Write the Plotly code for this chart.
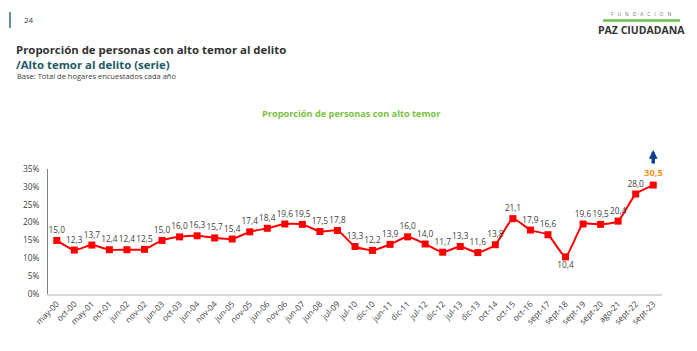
import plotly.graph_objects as go

categories = ["may-00", "oct-00", "may-01", "oct-01", "jun-02", "nov-02", "jun-03", "oct-03",
              "jun-04", "nov-04", "jun-05", "nov-05", "jun-06", "nov-06", "jun-07", "jun-08",
              "jul-09", "jul-10", "dic-10", "jun-11", "dic-11", "jul-12", "dic-12", "jul-13",
              "dic-13", "oct-14", "oct-15", "oct-16", "sept-17", "sept-18", "sept-19",
              "sept-20", "ago-21", "sept-22", "sept-23"]
values = [15.0, 12.3, 13.7, 12.4, 12.4, 12.5, 15.0, 16.0, 16.3, 15.7, 15.4, 17.4, 18.4,
          19.6, 19.5, 17.5, 17.8, 13.3, 12.2, 13.9, 16.0, 14.0, 11.7, 13.3, 11.6, 13.8,
          21.1, 17.9, 16.6, 10.4, 19.6, 19.5, 20.4, 28.0, 30.5]
y_ticks = [0, 5, 10, 15, 20, 25, 30, 35]
y_ticklabels = [f"{v}%" for v in y_ticks]

W, H = 697, 351
L, R, T, B = 48, 35, 169, 57
PW, PH = W - L - R, H - T - B


def px(x):
    return (x - L) / PW


def py(y):
    return (H - B - y) / PH


def fmt(v):
    return f"{v:.1f}".replace(".", ",")


labels = [fmt(v) for v in values]
labels[-1] = ""
min_idx = values.index(min(values))
positions = ["bottom center" if i == min_idx else "top center" for i in range(len(values))]

fig = go.Figure()
fig.add_trace(go.Scatter(
    x=categories, y=values,
    mode="lines+markers+text",
    line=dict(color="#FF0000", width=2, shape="spline", smoothing=0.5),
    marker=dict(symbol="square", size=7, color="#FF0000"),
    text=labels, textposition=positions,
    textfont=dict(family="Open Sans", size=8.3, color="#404040"),
    cliponaxis=False, hoverinfo="skip",
))

fig.add_annotation(x=categories[-1], y=values[-1], xref="x", yref="y",
                   text="<b>" + fmt(values[-1]) + "</b>", showarrow=False, yshift=13,
                   font=dict(family="Open Sans", size=9.5, color="#F7931E"))
fig.add_annotation(x=categories[-1], y=values[-1], xref="x", yref="y",
                   text="", showarrow=True, ax=0, ay=15, yshift=35,
                   arrowhead=2, arrowwidth=3.5, arrowsize=0.5, arrowcolor="#0B3D91")

# header texts
fig.add_annotation(xref="paper", yref="paper", x=px(14), y=py(57), xanchor="left", yanchor="middle",
                   align="left",
                   text="<b>Proporción de personas con alto temor al delito</b><br>"
                        "<b><span style='color:#1E5A66'>/Alto temor al delito (serie)</span></b>",
                   showarrow=False,
                   font=dict(family="Open Sans", size=11.4, color="#333333"))
fig.add_annotation(xref="paper", yref="paper", x=px(15), y=py(76), xanchor="left", yanchor="middle",
                   text="Base: Total de hogares encuestados cada año", showarrow=False,
                   font=dict(family="Open Sans", size=7.5, color="#404040"))
fig.add_annotation(xref="paper", yref="paper", x=px(22), y=py(20), xanchor="left", yanchor="middle",
                   text="24", showarrow=False,
                   font=dict(family="Open Sans", size=8, color="#404040"))
fig.add_annotation(xref="paper", yref="paper", x=px(351), y=py(113), xanchor="center", yanchor="middle",
                   text="<b>Proporción de personas con alto temor</b>", showarrow=False,
                   font=dict(family="Open Sans", size=9.2, color="#7AC143"))
# logo
fig.add_annotation(xref="paper", yref="paper", x=px(641), y=py(14), xanchor="center", yanchor="middle",
                   text="F   U   N   D   A   C   I   O   N", showarrow=False,
                   font=dict(family="Open Sans", size=5, color="#777777"))
fig.add_annotation(xref="paper", yref="paper", x=px(641), y=py(30), xanchor="center", yanchor="middle",
                   text="<b>PAZ CIUDADANA</b>", showarrow=False,
                   font=dict(family="Open Sans", size=10.5, color="#333333"))
fig.add_shape(type="line", xref="paper", yref="paper", x0=px(603), x1=px(680), y0=py(20.5), y1=py(20.5),
              line=dict(color="#6CC04A", width=2.5))
fig.add_shape(type="line", xref="paper", yref="paper", x0=px(10), x1=px(10), y0=py(12), y1=py(28),
              line=dict(color="#2E6E78", width=1.5))

fig.update_layout(
    width=W, height=H,
    margin=dict(l=L, r=R, t=T, b=B),
    paper_bgcolor="white", plot_bgcolor="white",
    showlegend=False,
    font=dict(family="Open Sans", color="#404040"),
)
fig.update_xaxes(
    type="category", range=[-0.5, len(categories) - 0.5],
    tickangle=-45, tickfont=dict(family="Open Sans", size=8.3, color="#404040"),
    showgrid=False, showline=True, linecolor="#D9D9D9", linewidth=2,
    ticks="", zeroline=False,
)
fig.update_yaxes(
    range=[0, 35], tickvals=y_ticks, ticktext=y_ticklabels,
    tickfont=dict(family="Open Sans", size=8.3, color="#404040"),
    showgrid=False, showline=True, linecolor="#808080", linewidth=1,
    ticks="", zeroline=False, ticklabelstandoff=6,
)

fig.write_html("out.html")
